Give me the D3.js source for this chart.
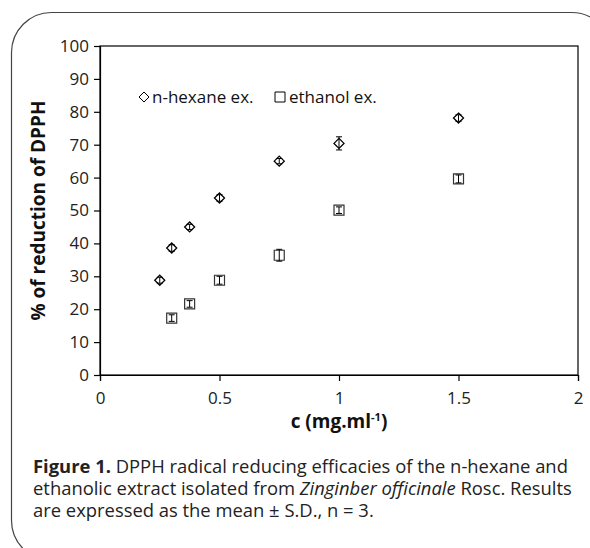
<!DOCTYPE html>
<html>
<head>
<meta charset="utf-8">
<script src="https://cdn.jsdelivr.net/npm/d3@7"></script>
<style>
  body { margin: 0; background: #fff; }
  text { font-family: "Open Sans", "Noto Sans", sans-serif; }
</style>
</head>
<body>
<div id="chart"></div>
<script>
// concentrations (mg/ml)
var hexaneC = [0.25, 0.3, 0.375, 0.5, 0.75, 1.0, 1.5];
var hexaneVal = [28.8, 38.6, 45.0, 53.8, 65.0, 70.4, 78.1];
var hexaneSd = [0.9, 1.0, 0.8, 1.0, 0.8, 2.0, 1.0];

var ethanolC = [0.3, 0.375, 0.5, 0.75, 1.0, 1.5];
var ethanolVal = [17.3, 21.6, 28.8, 36.4, 50.1, 59.6];
var ethanolSd = [1.0, 1.0, 1.2, 1.8, 1.0, 1.2];

var xTicks = [0, 0.5, 1, 1.5, 2];
var yTicks = [0, 10, 20, 30, 40, 50, 60, 70, 80, 90, 100];

var width = 590, height = 548;
var svg = d3.select("#chart").append("svg")
    .attr("width", width)
    .attr("height", height);

// outer rounded frame
svg.append("rect")
    .attr("x", 11.5).attr("y", 12.5)
    .attr("width", 600).attr("height", 548)
    .attr("rx", 40).attr("ry", 40)
    .attr("fill", "none")
    .attr("stroke", "#444")
    .attr("stroke-width", 1.2);

var pLeft = 100, pRight = 578, pTop = 46, pBottom = 375;

var x = d3.scaleLinear().domain([0, 2]).range([pLeft, pRight]);
var y = d3.scaleLinear().domain([0, 100]).range([pBottom, pTop]);

// plot box
svg.append("rect")
    .attr("x", pLeft).attr("y", pTop)
    .attr("width", pRight - pLeft).attr("height", pBottom - pTop)
    .attr("fill", "none")
    .attr("stroke", "#000")
    .attr("stroke-width", 1.2);

var yAxis = svg.append("g")
    .attr("transform", "translate(" + pLeft + ",0)")
    .call(d3.axisLeft(y).tickValues(yTicks).tickSize(6).tickPadding(5));

var xAxis = svg.append("g")
    .attr("transform", "translate(0," + pBottom + ")")
    .call(d3.axisBottom(x).tickValues(xTicks).tickSize(6).tickPadding(11)
      .tickFormat(function(d) { return d; }));

[xAxis, yAxis].forEach(function(a) {
  a.select(".domain").attr("stroke", "#000").attr("stroke-width", 1.2);
  a.selectAll(".tick line").attr("stroke", "#000").attr("stroke-width", 1.2);
  a.selectAll(".tick text")
    .attr("fill", "#222")
    .style("font-size", "17px")
    .style("font-family", "'Open Sans', sans-serif");
});

// axis titles
svg.append("text")
    .attr("x", (pLeft + pRight) / 2)
    .attr("y", 428)
    .attr("text-anchor", "middle")
    .style("font-size", "19px")
    .style("font-weight", "bold")
    .attr("fill", "#111")
    .html('c (mg.ml<tspan dy="-7" font-size="11px">-1</tspan><tspan dy="7">)</tspan>');

svg.append("text")
    .attr("transform", "translate(45," + ((pTop + pBottom) / 2) + ") rotate(-90)")
    .attr("text-anchor", "middle")
    .style("font-size", "19px")
    .style("font-weight", "bold")
    .attr("fill", "#111")
    .text("% of reduction of DPPH");

var hexane = hexaneC.map(function(c, i) { return { c: c, v: hexaneVal[i], sd: hexaneSd[i] }; });
var ethanol = ethanolC.map(function(c, i) { return { c: c, v: ethanolVal[i], sd: ethanolSd[i] }; });

function errorBars(data) {
  var g = svg.append("g").attr("stroke", "#000").attr("stroke-width", 1);
  g.selectAll("line.v").data(data).enter().append("line")
      .attr("x1", function(d) { return x(d.c); })
      .attr("x2", function(d) { return x(d.c); })
      .attr("y1", function(d) { return y(d.v - d.sd); })
      .attr("y2", function(d) { return y(d.v + d.sd); });
  ["lo", "hi"].forEach(function(k) {
    g.selectAll("line." + k).data(data).enter().append("line")
        .attr("x1", function(d) { return x(d.c) - 3; })
        .attr("x2", function(d) { return x(d.c) + 3; })
        .attr("y1", function(d) { return y(k == "lo" ? d.v - d.sd : d.v + d.sd); })
        .attr("y2", function(d) { return y(k == "lo" ? d.v - d.sd : d.v + d.sd); });
  });
}

var diamond = "M0,-5L5,0L0,5L-5,0Z";
var square = "M-5,-5L5,-5L5,5L-5,5Z";

// n-hexane: diamonds
svg.append("g").selectAll("path").data(hexane).enter().append("path")
    .attr("d", diamond)
    .attr("transform", function(d) { return "translate(" + x(d.c) + "," + y(d.v) + ")"; })
    .attr("fill", "#fff")
    .attr("stroke", "#000")
    .attr("stroke-width", 1.3);
errorBars(hexane);

// ethanol: squares
svg.append("g").selectAll("path").data(ethanol).enter().append("path")
    .attr("d", square)
    .attr("transform", function(d) { return "translate(" + x(d.c) + "," + y(d.v) + ")"; })
    .attr("fill", "#fff")
    .attr("stroke", "#333")
    .attr("stroke-width", 1.2);
errorBars(ethanol);

// legend
var legend = svg.append("g").style("font-size", "17px").attr("fill", "#111");
legend.append("path").attr("d", "M0,-5L5,0L0,5L-5,0Z")
    .attr("transform", "translate(144,97)")
    .attr("fill", "none").attr("stroke", "#000").attr("stroke-width", 1);
legend.append("text").attr("x", 152).attr("y", 103).text("n-hexane ex.");
legend.append("path").attr("d", "M-5,-5L5,-5L5,5L-5,5Z")
    .attr("transform", "translate(280,97)")
    .attr("fill", "none").attr("stroke", "#000").attr("stroke-width", 1);
legend.append("text").attr("x", 289).attr("y", 103).text("ethanol ex.");

// caption
var cap = svg.append("g").style("font-size", "18.4px").attr("fill", "#222");
var l1 = cap.append("text").attr("x", 33).attr("y", 473);
l1.append("tspan").style("font-weight", "bold").text("Figure 1.");
l1.append("tspan").text(" DPPH radical reducing efficacies of the n-hexane and");
var l2 = cap.append("text").attr("x", 33).attr("y", 495);
l2.append("tspan").text("ethanolic extract isolated from ");
l2.append("tspan").style("font-style", "italic").text("Zinginber officinale");
l2.append("tspan").text(" Rosc. Results");
cap.append("text").attr("x", 33).attr("y", 517)
    .text("are expressed as the mean \u00b1 S.D., n = 3.");
</script>
</body>
</html>
